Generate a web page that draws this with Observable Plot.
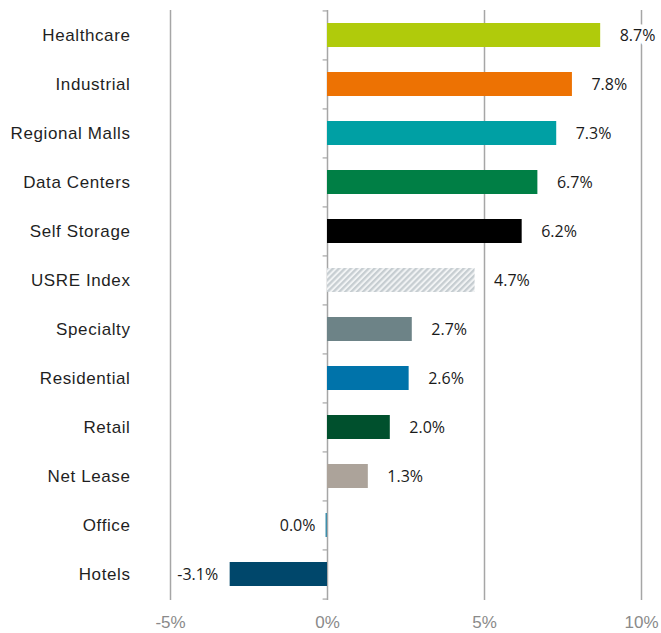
<!DOCTYPE html>
<html>
<head>
<meta charset="utf-8">
<script src="https://cdn.jsdelivr.net/npm/d3@7"></script>
<script src="https://cdn.jsdelivr.net/npm/@observablehq/plot@0.6"></script>
<style>
  html, body { margin: 0; padding: 0; background: #fff; }
  #chart svg [aria-label="y-axis tick label"] text { letter-spacing: 0.6px; }
</style>
</head>
<body>
<div id="chart"></div>
<script>
const categories = ["Healthcare","Industrial","Regional Malls","Data Centers","Self Storage","USRE Index","Specialty","Residential","Retail","Net Lease","Office","Hotels"];
const values = [8.7, 7.8, 7.3, 6.7, 6.2, 4.7, 2.7, 2.6, 2.0, 1.3, 0.0, -3.1];
const colors = ["#b0cb0b","#ed7203","#00a0a4","#007f45","#000000","url(#hatch)","#6d8387","#0073aa","#00502d","#aca39a","#3f8fab","#00476b"];
const xTicks = [-5, 0, 5, 10];

const data = categories.map((c, i) => ({category: c, value: values[i], color: colors[i]}));
const grid = "#a6a6a6";

const defs = () => {
  const ns = "http://www.w3.org/2000/svg";
  const g = document.createElementNS(ns, "g");
  g.innerHTML = `<defs><pattern id="hatch" width="4.2" height="4.2" patternUnits="userSpaceOnUse" patternTransform="rotate(45)">
    <rect width="4.2" height="4.2" fill="#f1f3f4"></rect>
    <rect width="2.2" height="4.2" fill="#c6cdd1"></rect>
  </pattern></defs>`;
  return g;
};

const halfStep = 590 / 12 / 2;

const chart = Plot.plot({
  width: 661,
  height: 633,
  marginLeft: 170,
  marginRight: 20,
  marginTop: 10,
  marginBottom: 33,
  style: {fontFamily: "'Liberation Sans', Arial, sans-serif", background: "#fff"},
  x: {domain: [-5, 10]},
  y: {domain: categories, paddingInner: 0.51, paddingOuter: 0.25},
  marks: [
    defs,
    Plot.ruleX(xTicks.filter(d => d !== 0), {stroke: grid, strokeWidth: 1.5}),
    Plot.ruleX([0], {stroke: grid, strokeWidth: 1.5}),
    Plot.ruleY(categories, {y: d => d, x1: -0.14, x2: 0, dy: -halfStep, stroke: grid, strokeWidth: 1.2}),
    Plot.ruleY([categories[categories.length - 1]], {y: d => d, x1: -0.14, x2: 0, dy: halfStep, stroke: grid, strokeWidth: 1.2}),
    Plot.barX(data.filter(d => d.value !== 0), {y: "category", x1: 0, x2: "value", fill: {value: d => d.color, scale: null}}),
    Plot.barX(data.filter(d => d.value === 0), {y: "category", x1: 0, x2: "value", insetLeft: -1.5, insetRight: 0, fill: {value: d => d.color, scale: null}}),
    Plot.text(data.filter(d => d.value > 0), {
      y: "category", x: "value", text: d => d.value.toFixed(1) + "%",
      textAnchor: "start", dx: 19, fontSize: 16, fill: "#1a1a1a",
      fontFamily: "'Open Sans', sans-serif",
      stroke: "white", strokeWidth: 9, paintOrder: "stroke"
    }),
    Plot.text(data.filter(d => d.value <= 0), {
      y: "category", x: "value", text: d => d.value.toFixed(1) + "%",
      textAnchor: "end", dx: -12, fontSize: 16, fill: "#1a1a1a",
      fontFamily: "'Open Sans', sans-serif",
      stroke: "white", strokeWidth: 9, paintOrder: "stroke"
    }),
    Plot.axisX({ticks: xTicks, tickFormat: d => d + "%", tickSize: 0, tickPadding: 15, fontSize: 17, color: "#8a8a8a", label: null}),
    Plot.axisY({tickSize: 0, tickPadding: 40, fontSize: 17, color: "#1f1f1f", label: null})
  ]
});
document.getElementById("chart").appendChild(chart);
</script>
</body>
</html>
